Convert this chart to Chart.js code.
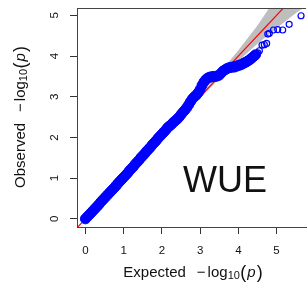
<!DOCTYPE html>
<html>
<head>
<meta charset="utf-8">
<script src="https://cdn.jsdelivr.net/npm/chart.js@4/dist/chart.umd.min.js"></script>
<style>
  html, body { margin: 0; padding: 0; background: #fff; }
  #wrap { width: 307px; height: 288px; overflow: hidden; }
  canvas { display: block; }
</style>
</head>
<body>
<div id="wrap"><canvas id="qq" width="312" height="288"></canvas></div>
<script>
// expected / observed -log10(p), dense part of the curve
const expDense = [0.00,0.05,0.10,0.15,0.20,0.25,0.30,0.35,0.40,0.45,0.50,0.55,0.60,0.65,0.70,0.75,0.80,0.85,0.90,0.95,
  1.00,1.05,1.10,1.15,1.20,1.25,1.30,1.35,1.40,1.45,1.50,1.55,1.60,1.65,1.70,1.75,1.80,1.85,1.90,1.95,
  2.00,2.05,2.10,2.15,2.20,2.25,2.30,2.35,2.40,2.45,2.50,2.55,2.60,2.65,2.70,2.75,2.80,2.85,2.90,2.95,
  3.00,3.05,3.10,3.15,3.20,3.25,3.30,3.35,3.40,3.45,3.50,3.55,3.60,3.65,3.70,3.75,3.80,3.85,3.90,3.95,
  4.00,4.05,4.10,4.15,4.20,4.25,4.30,4.35,4.40,4.45];
const obsDense = [0.00,0.05,0.10,0.15,0.20,0.25,0.30,0.35,0.41,0.46,0.51,0.56,0.61,0.66,0.71,0.76,0.81,0.87,0.92,0.97,
  1.02,1.07,1.12,1.18,1.23,1.28,1.34,1.39,1.44,1.50,1.55,1.60,1.66,1.71,1.76,1.82,1.87,1.92,1.98,2.03,
  2.08,2.13,2.18,2.24,2.28,2.32,2.37,2.41,2.45,2.50,2.56,2.62,2.67,2.73,2.80,2.88,2.95,3.00,3.04,3.10,
  3.18,3.28,3.36,3.42,3.46,3.48,3.49,3.50,3.50,3.51,3.53,3.58,3.63,3.66,3.69,3.71,3.72,3.73,3.73,3.75,
  3.77,3.78,3.80,3.83,3.85,3.88,3.91,3.95,3.99,4.03];
// top tail, single points
const expTail = [4.51,4.55,4.62,4.68,4.74,4.77,4.81,4.92,5.03,5.16,5.33,5.64];
const obsTail = [4.08,4.13,4.27,4.28,4.31,4.54,4.56,4.64,4.65,4.64,4.78,4.99];
// confidence band
const bandExp = [3.0, 3.5, 4.0, 4.5, 5.0, 5.5, 5.8];
const bandLow = [2.97, 3.44, 3.88, 4.30, 4.68, 5.05, 5.25];
const bandHigh = [3.03, 3.57, 4.14, 4.75, 5.45, 6.20, 6.60];
const diagLine = [-0.5, 6.5];
const xTicks = [0, 1, 2, 3, 4, 5];
const yTicks = [0, 1, 2, 3, 4, 5];
const traitLabel = 'WUE';

const FONT = '"Liberation Sans", Arial, Helvetica, sans-serif';
const pts = (xs, ys) => xs.map((x, i) => ({ x: x, y: ys[i] }));

// draws text made of several pieces (normal, subscript, italic), centred on 0
function drawPieces(ctx, pieces) {
  let w = 0;
  pieces.forEach(p => {
    ctx.font = p.font;
    p.w = ctx.measureText(p.t).width + (p.gap || 0);
    w += p.w;
  });
  let x = -w / 2;
  pieces.forEach(p => {
    ctx.font = p.font;
    ctx.fillText(p.t, x, p.dy || 0);
    x += p.w;
  });
}

function titlePieces(word) {
  return [
    { t: word, font: '15px ' + FONT, gap: 11 },
    { t: '\u2212', font: '15px ' + FONT, gap: 2 },
    { t: 'log', font: '15px ' + FONT },
    { t: '10', font: '11px ' + FONT, dy: 3, gap: 0.5 },
    { t: '(', font: '18px ' + FONT, gap: 1 },
    { t: 'p', font: 'italic 15px ' + FONT, gap: 1 },
    { t: ')', font: '18px ' + FONT }
  ];
}

const extras = {
  id: 'extras',
  afterDraw(chart) {
    const ctx = chart.ctx;
    const a = chart.chartArea;
    const ys = chart.scales.y;
    ctx.save();
    // top side of the box
    ctx.strokeStyle = '#444';
    ctx.lineWidth = 1;
    ctx.beginPath();
    ctx.moveTo(a.left, a.top + 0.5);
    ctx.lineTo(a.right, a.top + 0.5);
    ctx.stroke();

    ctx.fillStyle = '#111';
    ctx.textAlign = 'left';
    ctx.textBaseline = 'middle';
    // y tick labels, rotated like R
    ctx.font = '11.5px ' + FONT;
    yTicks.forEach(v => {
      ctx.save();
      ctx.translate(55, ys.getPixelForValue(v));
      ctx.rotate(-Math.PI / 2);
      ctx.textAlign = 'center';
      ctx.fillText(String(v), 0, 0);
      ctx.restore();
    });
    // axis titles
    ctx.save();
    ctx.translate(21, 117);
    ctx.rotate(-Math.PI / 2);
    drawPieces(ctx, titlePieces('Observed'));
    ctx.restore();
    ctx.save();
    ctx.translate(193, 273);
    drawPieces(ctx, titlePieces('Expected'));
    ctx.restore();
    // trait name
    ctx.font = '36px ' + FONT;
    ctx.textBaseline = 'alphabetic';
    ctx.fillText(traitLabel, 183, 192);
    ctx.restore();
  }
};

new Chart(document.getElementById('qq'), {
  type: 'scatter',
  data: {
    datasets: [
      {
        data: pts(bandExp, bandLow), showLine: true, pointRadius: 0,
        borderWidth: 0, borderColor: 'rgba(0,0,0,0)', fill: false, order: 5
      },
      {
        data: pts(bandExp, bandHigh), showLine: true, pointRadius: 0,
        borderWidth: 0, borderColor: 'rgba(0,0,0,0)', backgroundColor: '#bebebe', fill: '-1', order: 4
      },
      {
        data: pts(diagLine, diagLine), showLine: true, pointRadius: 0,
        borderColor: '#ff0000', borderWidth: 1.2, order: 3
      },
      {
        data: pts(expDense, obsDense), pointRadius: 5, pointStyle: 'circle',
        backgroundColor: '#0000ff', borderColor: '#0000ff', borderWidth: 1, order: 2
      },
      {
        data: pts(expTail, obsTail), pointRadius: 3, pointStyle: 'circle',
        backgroundColor: 'rgba(0,0,0,0)', borderColor: '#0000ff', borderWidth: 1.2, order: 1
      }
    ]
  },
  options: {
    responsive: false,
    animation: false,
    layout: { padding: { top: 8, left: 0, right: 0, bottom: 0 } },
    plugins: { legend: { display: false }, tooltip: { enabled: false } },
    scales: {
      x: {
        type: 'linear', min: -0.22, max: 5.77,
        afterBuildTicks: s => { s.ticks = xTicks.map(v => ({ value: v })); },
        afterFit: s => { s.height = 61; },
        grid: { drawOnChartArea: false, drawTicks: true, tickLength: 7, color: '#333' },
        border: { display: true, color: '#444', width: 1 },
        ticks: { font: { family: FONT, size: 11.5 }, color: '#111', padding: 10, maxRotation: 0 }
      },
      y: {
        type: 'linear', min: -0.2, max: 5.18,
        afterBuildTicks: s => { s.ticks = yTicks.map(v => ({ value: v })); },
        afterFit: s => { s.width = 77; },
        grid: { drawOnChartArea: false, drawTicks: true, tickLength: 7, color: '#333' },
        border: { display: true, color: '#444', width: 1 },
        ticks: { display: false }
      }
    }
  },
  plugins: [extras]
});
</script>
</body>
</html>
